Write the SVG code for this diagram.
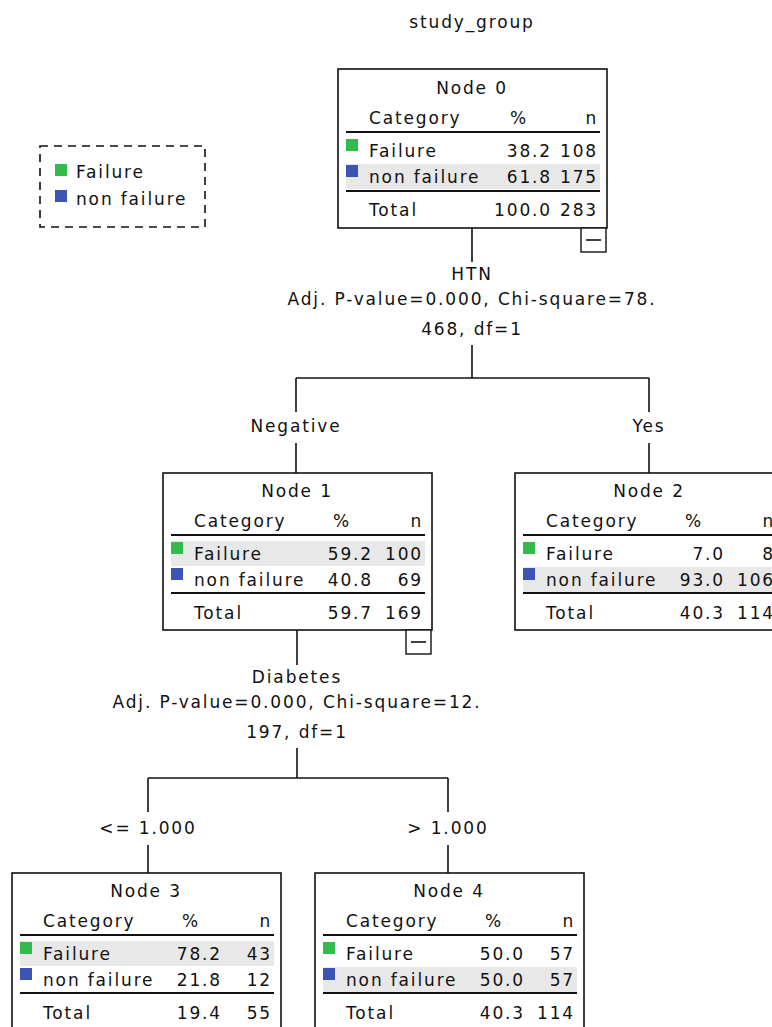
<svg xmlns="http://www.w3.org/2000/svg" width="772" height="1027" viewBox="0 0 772 1027">
<style>
text{font-family:"DejaVu Sans","Liberation Sans",sans-serif;font-size:17px;fill:#111;letter-spacing:1.85px}
.c{text-anchor:middle}
.r{text-anchor:end}
.box{fill:#fff;stroke:#111;stroke-width:1.6}
.rule{stroke:#111;stroke-width:1.8}
.shade{fill:#e8e8e8}
.g{fill:#33bb4b}
.b{fill:#3c55b4}
.conn line{stroke:#111;stroke-width:1.6}
.col{fill:#fff;stroke:#111;stroke-width:1.4}
</style>
<text class="c" x="472" y="28">study_group</text>
<g id="legend">
<rect x="40" y="146" width="165" height="81" fill="none" stroke="#111" stroke-width="1.6" stroke-dasharray="8,6"/>
<rect class="g" x="55" y="164" width="12" height="12"/>
<text x="76" y="178">Failure</text>
<rect class="b" x="55" y="190" width="12" height="12"/>
<text x="76" y="205">non failure</text>
</g>
<g class="conn" id="connectors">
<line x1="472" y1="228" x2="472" y2="262"/>
<line x1="472" y1="345" x2="472" y2="378"/>
<line x1="296" y1="378" x2="649" y2="378"/>
<line x1="296" y1="378" x2="296" y2="412"/>
<line x1="649" y1="378" x2="649" y2="412"/>
<line x1="296" y1="443" x2="296" y2="473"/>
<line x1="649" y1="443" x2="649" y2="473"/>
<line x1="297" y1="630" x2="297" y2="665"/>
<line x1="297" y1="748" x2="297" y2="778"/>
<line x1="148" y1="778" x2="448" y2="778"/>
<line x1="148" y1="778" x2="148" y2="812"/>
<line x1="448" y1="778" x2="448" y2="812"/>
<line x1="148" y1="845" x2="148" y2="873"/>
<line x1="448" y1="845" x2="448" y2="873"/>
</g>
<g id="labels">
<text class="c" x="472" y="280">HTN</text>
<text class="c" x="472" y="305">Adj. P-value=0.000, Chi-square=78.</text>
<text class="c" x="472" y="335">468, df=1</text>
<text class="c" x="296" y="432">Negative</text>
<text class="c" x="649" y="432">Yes</text>
<text class="c" x="297" y="683">Diabetes</text>
<text class="c" x="297" y="708">Adj. P-value=0.000, Chi-square=12.</text>
<text class="c" x="297" y="738">197, df=1</text>
<text class="c" x="148" y="834">&lt;= 1.000</text>
<text class="c" x="448" y="834">&gt; 1.000</text>
</g>
<g id="node0" transform="translate(338,69)">
<rect class="box" x="0" y="0" width="269" height="159"/>
<rect class="shade" x="8" y="95" width="254" height="25"/>
<text class="c" x="134" y="25">Node 0</text>
<text x="31" y="55">Category</text>
<text class="c" x="181" y="55">%</text>
<text class="r" x="260" y="55">n</text>
<line class="rule" x1="8" y1="63" x2="262" y2="63"/>
<rect class="g" x="8" y="70" width="12" height="12"/>
<text x="31" y="88">Failure</text>
<text class="r" x="214" y="88">38.2</text>
<text class="r" x="260" y="88">108</text>
<rect class="b" x="8" y="96" width="12" height="12"/>
<text x="31" y="114">non failure</text>
<text class="r" x="214" y="114">61.8</text>
<text class="r" x="260" y="114">175</text>
<line class="rule" x1="8" y1="122" x2="262" y2="122"/>
<text x="31" y="147">Total</text>
<text class="r" x="214" y="147">100.0</text>
<text class="r" x="260" y="147">283</text>
<rect class="col" x="243" y="159" width="25" height="24"/>
<line x1="248" y1="171" x2="263" y2="171" stroke="#111" stroke-width="1.6"/>
</g>
<g id="node1" transform="translate(163,473)">
<rect class="box" x="0" y="0" width="269" height="157"/>
<rect class="shade" x="8" y="68" width="254" height="25"/>
<text class="c" x="134" y="24">Node 1</text>
<text x="31" y="54">Category</text>
<text class="c" x="179" y="54">%</text>
<text class="r" x="260" y="54">n</text>
<line class="rule" x1="8" y1="62" x2="262" y2="62"/>
<rect class="g" x="8" y="69" width="12" height="12"/>
<text x="31" y="87">Failure</text>
<text class="r" x="210" y="87">59.2</text>
<text class="r" x="260" y="87">100</text>
<rect class="b" x="8" y="95" width="12" height="12"/>
<text x="31" y="113">non failure</text>
<text class="r" x="210" y="113">40.8</text>
<text class="r" x="260" y="113">69</text>
<line class="rule" x1="8" y1="120" x2="262" y2="120"/>
<text x="31" y="146">Total</text>
<text class="r" x="210" y="146">59.7</text>
<text class="r" x="260" y="146">169</text>
<rect class="col" x="243" y="157" width="25" height="24"/>
<line x1="248" y1="169" x2="263" y2="169" stroke="#111" stroke-width="1.6"/>
</g>
<g id="node2" transform="translate(515,473)">
<rect class="box" x="0" y="0" width="269" height="157"/>
<rect class="shade" x="8" y="94" width="254" height="25"/>
<text class="c" x="134" y="24">Node 2</text>
<text x="31" y="54">Category</text>
<text class="c" x="179" y="54">%</text>
<text class="r" x="260" y="54">n</text>
<line class="rule" x1="8" y1="62" x2="262" y2="62"/>
<rect class="g" x="8" y="69" width="12" height="12"/>
<text x="31" y="87">Failure</text>
<text class="r" x="210" y="87">7.0</text>
<text class="r" x="260" y="87">8</text>
<rect class="b" x="8" y="95" width="12" height="12"/>
<text x="31" y="113">non failure</text>
<text class="r" x="210" y="113">93.0</text>
<text class="r" x="260" y="113">106</text>
<line class="rule" x1="8" y1="120" x2="262" y2="120"/>
<text x="31" y="146">Total</text>
<text class="r" x="210" y="146">40.3</text>
<text class="r" x="260" y="146">114</text>
</g>
<g id="node3" transform="translate(12,873)">
<rect class="box" x="0" y="0" width="269" height="170"/>
<rect class="shade" x="8" y="68" width="254" height="25"/>
<text class="c" x="134" y="24">Node 3</text>
<text x="31" y="54">Category</text>
<text class="c" x="179" y="54">%</text>
<text class="r" x="260" y="54">n</text>
<line class="rule" x1="8" y1="62" x2="262" y2="62"/>
<rect class="g" x="8" y="69" width="12" height="12"/>
<text x="31" y="87">Failure</text>
<text class="r" x="210" y="87">78.2</text>
<text class="r" x="260" y="87">43</text>
<rect class="b" x="8" y="95" width="12" height="12"/>
<text x="31" y="113">non failure</text>
<text class="r" x="210" y="113">21.8</text>
<text class="r" x="260" y="113">12</text>
<line class="rule" x1="8" y1="120" x2="262" y2="120"/>
<text x="31" y="146">Total</text>
<text class="r" x="210" y="146">19.4</text>
<text class="r" x="260" y="146">55</text>
</g>
<g id="node4" transform="translate(315,873)">
<rect class="box" x="0" y="0" width="269" height="170"/>
<rect class="shade" x="8" y="94" width="254" height="25"/>
<text class="c" x="134" y="24">Node 4</text>
<text x="31" y="54">Category</text>
<text class="c" x="179" y="54">%</text>
<text class="r" x="260" y="54">n</text>
<line class="rule" x1="8" y1="62" x2="262" y2="62"/>
<rect class="g" x="8" y="69" width="12" height="12"/>
<text x="31" y="87">Failure</text>
<text class="r" x="210" y="87">50.0</text>
<text class="r" x="260" y="87">57</text>
<rect class="b" x="8" y="95" width="12" height="12"/>
<text x="31" y="113">non failure</text>
<text class="r" x="210" y="113">50.0</text>
<text class="r" x="260" y="113">57</text>
<line class="rule" x1="8" y1="120" x2="262" y2="120"/>
<text x="31" y="146">Total</text>
<text class="r" x="210" y="146">40.3</text>
<text class="r" x="260" y="146">114</text>
</g>
</svg>
